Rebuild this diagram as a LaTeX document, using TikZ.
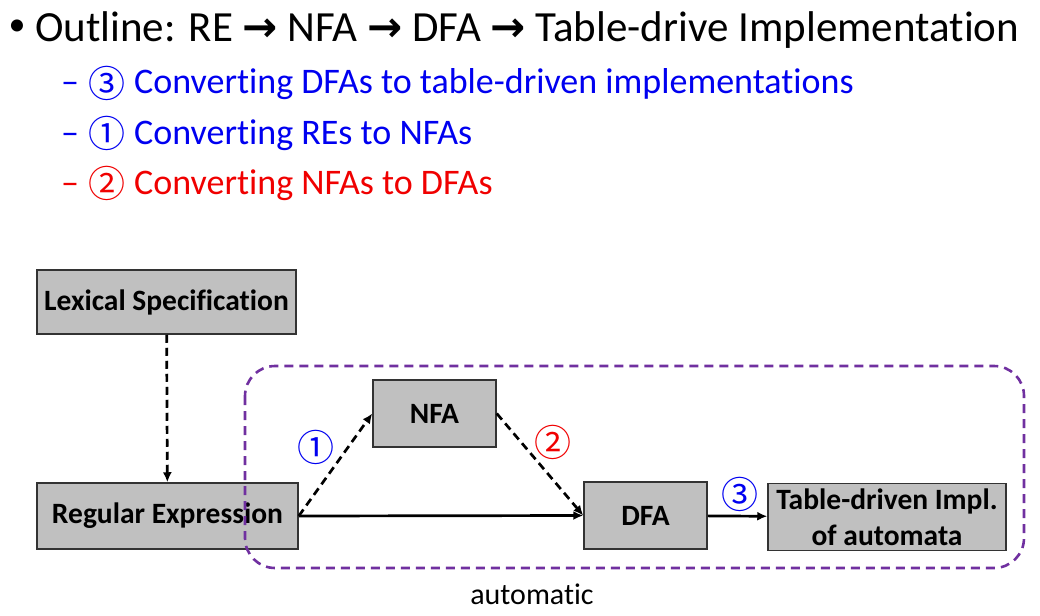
\documentclass[tikz,border=0pt]{standalone}
\usepackage{fontspec}
\setmainfont{Carlito}[Ligatures=NoCommon]
\newfontfamily\symfont{DejaVu Sans}
\newfontfamily\cjk{Noto Sans CJK SC}
\usetikzlibrary{arrows.meta}
\definecolor{boxgray}{RGB}{192,192,192}
\definecolor{purp}{RGB}{112,48,160}
\definecolor{myblue}{RGB}{0,0,240}
\definecolor{myred}{RGB}{240,0,0}
\newcommand{\tarrow}{{\symfont\bfseries\fontsize{42}{42}\selectfont →}}
\begin{document}
\begin{tikzpicture}[x=1pt,y=-1pt,
  box/.style={draw=black!80, line width=1.5pt, fill=boxgray, inner sep=0pt, align=center,
    font=\fontsize{29.5}{36}\selectfont\bfseries},
  dasharrow/.style={draw=black, line width=2.7pt, dash pattern=on 8pt off 5pt, -{Latex[length=10pt,width=9pt]}},
  solidarrow/.style={draw=black, line width=2.7pt, -{Latex[length=10pt,width=9pt]}},
  title/.style={anchor=base west, inner sep=0pt, font=\fontsize{43}{46}\selectfont},
  item/.style={anchor=base west, inner sep=0pt, font=\fontsize{36}{40}\selectfont},
  circ/.style={inner sep=0pt, font=\cjk\fontsize{37}{40}\selectfont},
  ]
\useasboundingbox (0,0) rectangle (1040,615);

% text
\node[inner sep=0pt, font=\fontsize{34}{36}\selectfont] (t0) at (17,28) {•};
\node[title] (t1) at (35,42) {Outline: RE \tarrow{} NFA \tarrow{} DFA \tarrow{} Table-drive Implementation};

\node[item, text=myblue] (d1) at (61,94) {–};
\node[circ, text=myblue] (n1) at (107,83) {③};
\node[item, text=myblue] (i1) at (134,94) {Converting DFAs to table-driven implementations};

\node[item, text=myblue] (d2) at (61,144) {–};
\node[circ, text=myblue] (n2) at (107,133) {①};
\node[item, text=myblue] (i2) at (134,144) {Converting REs to NFAs};

\node[item, text=myred] (d3) at (61,194) {–};
\node[circ, text=myred] (n3) at (107,183) {②};
\node[item, text=myred] (i3) at (134,194) {Converting NFAs to DFAs};

% boxes
\node[box, minimum width=259pt, minimum height=64pt] (lex) at (166.5,302) {Lexical Specification};
\node[box, minimum width=261pt, minimum height=66pt] (re) at (167.5,516) {Regular Expression};
\node[box, minimum width=123pt, minimum height=67pt] (nfa) at (434.5,413.5) {NFA};
\node[box, minimum width=123pt, minimum height=67pt] (dfa) at (645.5,515.5) {DFA};
\node[box, minimum width=238pt, minimum height=67pt] (tab) at (887,517) {Table-driven Impl.\\of automata};

% connectors
\draw[dasharrow] (lex) -- (re);
\draw[dasharrow] (re.east) -- (nfa.west);
\draw[dasharrow] (nfa.east) -- (dfa.west);
\draw[solidarrow] (re.east) -- (dfa.west);
\draw[solidarrow] (dfa) -- (tab);

% labels
\node[circ, text=myblue] (c1) at (316,447) {①};
\node[circ, text=myred] (c2) at (553,442) {②};
\node[circ, text=myblue] (c3) at (740,494) {③};

% automatic region
\draw[purp, line width=2.6pt, dash pattern=on 9pt off 6pt, rounded corners=30pt] (245,366) rectangle (1024,568);
\node[inner sep=0pt, font=\fontsize{30}{32}\selectfont] (auto) at (532,594) {automatic};
\end{tikzpicture}
\end{document}
